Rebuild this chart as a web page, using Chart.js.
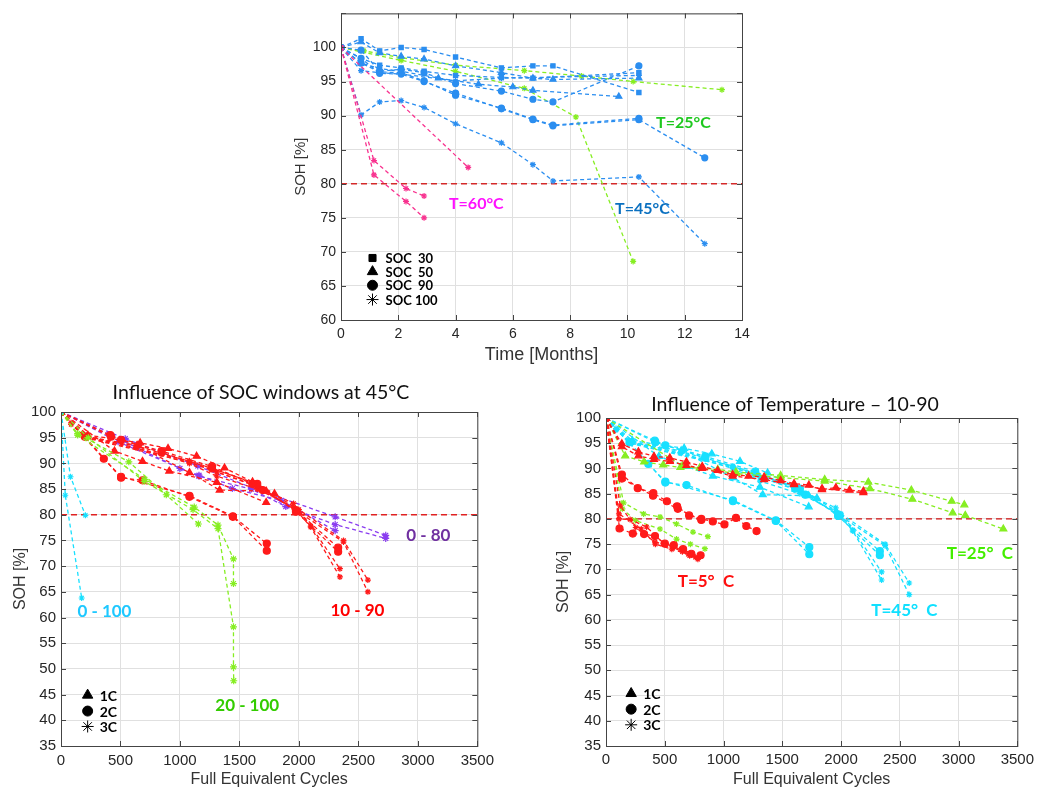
<!DOCTYPE html>
<html>
<head>
<meta charset="utf-8">
<script src="https://cdn.jsdelivr.net/npm/chart.js@4.4.1/dist/chart.umd.min.js"></script>
<style>
  body { margin: 0; background: #fff; width: 1039px; height: 792px; position: relative; overflow: hidden; }
  .panel { position: absolute; }
  .title { position: absolute; font-family: Lato, "Open Sans", sans-serif; font-size: 19.5px; color: #111; white-space: nowrap; transform: translate(-50%, -50%); }
</style>
</head>
<body>
<div class="panel" style="left:280px;top:0"><canvas id="storage" width="480" height="370"></canvas></div>
<div class="panel" style="left:0;top:380px"><canvas id="socWindows" width="500" height="412"></canvas></div>
<div class="panel" style="left:540px;top:380px"><canvas id="temperature" width="499" height="412"></canvas></div>
<div class="title" style="left:261px;top:391px">Influence of SOC windows at 45°C</div>
<div class="title" style="left:795px;top:403px">Influence of Temperature – 10-90</div>

<script>
// ---- calendar ageing: [months, SOH %] ----
const cal45Square1 = [[0,100],[0.7,101.3],[1.35,99.5],[2.1,100],[2.9,99.7],[4,98.6],[5.6,97],[6.7,97.3],[7.4,97.3],[10.4,93.4]];
const cal45Square2 = [[0,100],[0.7,98.4],[1.35,97.4],[2.1,97],[2.9,96.5],[4,95.9],[5.6,95.6],[6.7,95.5],[10.4,96.3]];
const cal45Tri1 = [[0,100],[0.7,100.8],[1.35,99.2],[2.1,98.7],[2.9,98.3],[4,97.3],[5.6,96.3],[6.7,95.5],[7.4,95.3],[10.4,95.5]];
const cal45Tri2 = [[0,100],[0.7,97.7],[1.35,96.9],[2.1,96.5],[3.4,95.5],[4.8,94.6],[6,94.2],[6.7,93.7],[9.7,92.8]];
const cal45Circle1 = [[0,100],[0.7,99.6],[1.35,96.5],[2.1,96.8],[2.9,96.3],[4,94.7],[5.6,93.6],[6.7,92.4],[7.4,92],[10.4,97.3]];
const cal45Circle2 = [[0,100],[0.7,98.4],[1.35,96.2],[2.1,96.1],[2.9,95],[4,93.3],[5.6,91],[6.7,89.4],[7.4,88.5],[10.4,89.4],[12.7,83.8]];
const cal45Circle3 = [[0,100],[0.7,97.7],[1.35,96.4],[2.1,96.3],[2.9,95.1],[4,93],[5.6,91.1],[6.7,89.5],[7.4,88.6],[10.4,89.6]];
const cal45Star1 = [[0,100],[0.7,90.1],[1.35,92],[2.1,92.2],[2.9,91.2],[4,88.8],[5.6,86],[6.7,82.8],[7.4,80.4],[10.4,81],[12.7,71.2]];
const cal45Star2 = [[0,100],[0.7,96.6],[1.35,96.3],[2.1,96.1],[4,95.1],[5.6,95.5],[10.4,95.9]];
const cal25Star1 = [[0,100],[0.8,99.5],[2.1,98.5],[4,97.4],[6.4,96.6],[8.4,95.8],[10.2,95],[13.3,93.8]];
const cal25Star2 = [[0,100],[2.1,98.1],[4,96.5],[6.4,94],[8.2,89.8],[10.2,68.6]];
const cal60Star1 = [[0,100],[1.15,83.4],[2.27,79.3],[2.9,78.2]];
const cal60Star2 = [[0,100],[1.15,81.3],[2.27,77.4],[2.9,75]];
const cal60Star3 = [[0,100],[4.44,82.4]];

// ---- cycling at 45°C, 10-90 window: [FEC, SOH %] ----
const c45Tri1 = [[0,100],[225,95.5],[665,94],[900,92.9],[1140,91.4],[1375,89.1],[1610,86.4],[1795,84.1]];
const c45Tri2 = [[0,100],[450,92.4],[685,90.4],[910,88.5],[1310,86.3],[1725,82.4]];
const c45Tri3 = [[0,100],[220,95.2],[640,93.5],[1080,88.2],[1334,84.8],[1725,84.6]];
const c45Circle1 = [[0,100],[360,90.9],[505,87.4],[1080,83.7],[1445,79.7],[1730,74.4]];
const c45Circle2 = [[0,100],[200,95.2],[505,87.2],[685,86.7],[1080,83.5],[1445,79.6],[1730,73]];
const c45Circle3 = [[0,100],[415,95.5],[505,94.6],[845,92.4],[1270,89.4],[1610,86],[1695,84.8],[1975,80.9],[2330,73.6]];
const c45Circle4 = [[0,100],[420,95.2],[845,92.1],[1270,89],[1650,86],[1975,80.6],[2330,72.8]];
const c45Star1 = [[0,100],[85,97.9],[200,95],[640,93.4],[1080,90.3],[1310,88.3],[1650,85.5],[1955,82.2],[2100,77.8],[2345,69.5]];
const c45Star2 = [[0,100],[85,97.6],[200,95.3],[640,93],[1080,90],[1310,87.5],[1650,85],[1955,81.5],[2100,77.6],[2345,67.9]];
const c45Star3 = [[0,100],[200,95.1],[1080,90.5],[1650,86],[2000,81],[2375,75],[2580,67.3]];
const c45Star4 = [[0,100],[200,95],[1080,90.2],[1650,85.6],[2000,80.5],[2375,74.7],[2580,65]];

// other SOC windows at 45°C
const w080a = [[0,100],[510,94.5],[1000,89],[1160,87.7],[1440,85.1],[1850,82.8],[2305,76.9]];
const w080b = [[0,100],[540,94.8],[1150,89.5],[1600,85.3],[2305,79.6],[2730,76]];
const w080c = [[0,100],[480,94.2],[1160,87.5],[1600,85],[1890,81.6],[2305,78.1],[2730,75.4]];
const w20100a = [[0,100],[140,95.8],[570,90.3],[885,83.9],[1155,78.2]];
const w20100b = [[0,100],[140,95.5],[705,86.9],[1120,81.5],[1320,78],[1450,71.4],[1450,66.6]];
const w20100c = [[0,100],[230,95],[700,86.5],[1110,81],[1320,77.3],[1450,58.2],[1450,50.4],[1452,47.7]];
const w0100a = [[0,100],[36,83.8],[174,63.8]];
const w0100b = [[0,100],[80,87.4],[205,79.9]];

// 10-90 window at 5°C and 25°C
const c5Tri1 = [[0,100],[135,94.9],[276,93.3],[408,92.4],[543,92.1],[684,91.3],[819,90.4],[951,89.6],[1078,88.8],[1213,88.5],[1346,88.3],[1486,87.6],[1600,87],[1726,86.7],[1838,85.8],[1956,86.2],[2072,85.7],[2190,85.5]];
const c5Tri2 = [[0,100],[135,94.3],[276,92.5],[408,91.8],[543,91.4],[684,90.6],[819,90],[1078,88.5],[1346,87.8],[1600,86.8],[1838,86],[2190,85.2]];
const c5Circle1 = [[0,100],[135,88.8],[270,86.1],[403,85.1],[518,83.5],[605,82.5],[707,80.7],[811,80],[909,79.5],[1008,78.9],[1106,80.2],[1194,78.6],[1281,77.6]];
const c5Circle2 = [[0,100],[115,78.1],[228,77.1],[324,77],[417,76.6],[501,75.1],[577,74.8],[656,74],[726,73.1],[805,72.8]];
const c5Circle3 = [[0,100],[135,88],[400,84.6],[611,82],[811,79.8]];
const c5Star1 = [[0,100],[121,82.6],[253,78.3],[417,75.4],[580,74.6],[712,72.7],[782,72]];
const c5Star2 = [[0,100],[110,80],[205,79.9],[346,78.4],[487,75.2],[650,73.5],[782,72.3]];
const c5Star3 = [[0,100],[110,81],[300,78],[420,75],[560,74],[700,73],[760,72.4]];
const c25Tri1 = [[0,100],[163,92.5],[324,91.3],[487,90.7],[633,90.2],[797,90.1],[951,89.8],[1106,89.3],[1486,88.6],[1861,87.8],[2232,87.3],[2598,85.7],[2942,83.5],[3049,82.8]];
const c25Tri2 = [[0,100],[650,90.5],[1106,89],[1486,88.2],[1861,87.5],[2246,86],[2607,83.9],[2950,81.2],[3057,80.7],[3381,78]];
const c25Star1 = [[0,100],[150,83.2],[320,81],[460,80.4],[600,79],[740,77.4],[867,76.5]];
const c25Star2 = [[0,100],[140,82],[250,79.7],[460,78],[600,76],[718,75],[842,74.1]];

const eolLimit = 80;

const BLUE = '#2b8ef0', LIME = '#86ee22', PINK = '#f8328f';
const RED = '#ff1a1a', CYAN = '#18e0ff', PURPLE = '#8a3cf0';

function series(points, color, marker, r) {
  return {
    data: points.map(p => ({ x: p[0], y: p[1] })),
    showLine: true,
    borderColor: color,
    backgroundColor: color,
    borderWidth: 1.3,
    borderDash: [4, 3],
    pointStyle: marker,
    pointRadius: r,
    pointBorderWidth: 1.2
  };
}

function limitLine(xMax, color) {
  return {
    data: [{ x: 0, y: eolLimit }, { x: xMax, y: eolLimit }],
    showLine: true, borderColor: color, borderWidth: 1.3, borderDash: [6, 4], pointRadius: 0
  };
}

// axis box with inward tick marks on every side
const framePlugin = {
  id: 'frame',
  afterDatasetsDraw(chart) {
    const { ctx, chartArea: a, scales: { x, y } } = chart;
    ctx.save();
    ctx.strokeStyle = '#444';
    ctx.lineWidth = 1;
    ctx.strokeRect(a.left + 0.5, a.top + 0.5, a.right - a.left, a.bottom - a.top);
    ctx.beginPath();
    x.ticks.forEach(t => {
      const px = Math.round(x.getPixelForValue(t.value)) + 0.5;
      ctx.moveTo(px, a.bottom); ctx.lineTo(px, a.bottom - 5);
      ctx.moveTo(px, a.top); ctx.lineTo(px, a.top + 5);
    });
    y.ticks.forEach(t => {
      const py = Math.round(y.getPixelForValue(t.value)) + 0.5;
      ctx.moveTo(a.left, py); ctx.lineTo(a.left + 5, py);
      ctx.moveTo(a.right, py); ctx.lineTo(a.right - 5, py);
    });
    ctx.stroke();
    ctx.restore();
  }
};

// coloured group labels and the black marker key
const notesPlugin = {
  id: 'notes',
  afterDraw(chart, args, opts) {
    const { ctx, scales: { x, y } } = chart;
    ctx.save();
    ctx.textBaseline = 'middle';
    (opts.labels || []).forEach(n => {
      ctx.font = n.font;
      ctx.fillStyle = n.color;
      ctx.fillText(n.text, x.getPixelForValue(n.x), y.getPixelForValue(n.y));
    });
    (opts.key || []).forEach(k => {
      const px = x.getPixelForValue(k.x), py = y.getPixelForValue(k.y);
      ctx.fillStyle = '#000';
      ctx.strokeStyle = '#000';
      Chart.helpers.drawPoint(ctx, { pointStyle: k.marker, radius: k.r, rotation: 0, borderWidth: 1.5 }, px, py);
      ctx.font = 'bold ' + (opts.keySize || 13) + 'px Lato, sans-serif';
      ctx.fillText(k.text, px + k.dx, py + 1);
    });
    ctx.restore();
  }
};

function axis(min, max, step, title, opts) {
  return {
    type: 'linear', min: min, max: max,
    ticks: {
      stepSize: step, color: '#262626', padding: opts.tickPad,
      font: { family: 'Liberation Sans', size: opts.tickSize },
      callback: opts.hideAbove !== undefined ? (v => v > opts.hideAbove ? '' : v) : (v => v)
    },
    grid: { color: '#e0e0e0', drawTicks: false },
    border: { display: false },
    title: {
      display: true, text: title, color: '#333',
      font: { family: 'Liberation Sans', size: opts.titleSize },
      padding: opts.titlePad
    },
    afterFit: s => { if (opts.w) s.width = opts.w; if (opts.h) s.height = opts.h; }
  };
}

function build(id, datasets, scales, padding, notes) {
  return new Chart(document.getElementById(id), {
    type: 'scatter',
    data: { datasets: datasets },
    options: {
      responsive: false, animation: false, events: [],
      layout: { padding: padding },
      plugins: { legend: { display: false }, tooltip: { enabled: false }, notes: notes },
      scales: scales
    },
    plugins: [framePlugin, notesPlugin]
  });
}

// storage test over time
build('storage', [
  series(cal60Star1, PINK, 'star', 3),
  series(cal60Star2, PINK, 'star', 3),
  series(cal60Star3, PINK, 'star', 3),
  series(cal45Square1, BLUE, 'rect', 3),
  series(cal45Square2, BLUE, 'rect', 3),
  series(cal45Tri1, BLUE, 'triangle', 3.5),
  series(cal45Tri2, BLUE, 'triangle', 3.5),
  series(cal45Circle1, BLUE, 'circle', 3),
  series(cal45Circle2, BLUE, 'circle', 3),
  series(cal45Circle3, BLUE, 'circle', 3),
  series(cal45Star1, BLUE, 'star', 3),
  series(cal45Star2, BLUE, 'star', 3),
  series(cal25Star1, LIME, 'star', 3),
  series(cal25Star2, LIME, 'star', 3),
  limitLine(14, '#d42a2a')
], {
  x: axis(0, 14, 2, 'Time [Months]', { tickSize: 14, tickPad: 6, titleSize: 18, titlePad: { top: 0, bottom: 4 }, h: 50 }),
  y: axis(60, 105, 5, 'SOH [%]', { tickSize: 14, tickPad: 5, titleSize: 15, titlePad: { top: 12, bottom: 0 }, w: 61, hideAbove: 100 })
}, { top: 7, right: 18, left: 0, bottom: 0 }, {
  keySize: 13,
  labels: [
    { text: 'T=25°C', x: 11.0, y: 89, color: '#1ec81e', font: 'bold 16px Lato, sans-serif' },
    { text: 'T=60°C', x: 3.77, y: 77, color: '#ff10ff', font: 'bold 16px Lato, sans-serif' },
    { text: 'T=45°C', x: 9.57, y: 76.3, color: '#0a70c0', font: 'bold 16px Lato, sans-serif' }
  ],
  key: [
    { marker: 'rect', r: 5, x: 1.1, y: 69.1, dx: 13, text: 'SOC  30' },
    { marker: 'triangle', r: 6, x: 1.1, y: 67.1, dx: 13, text: 'SOC  50' },
    { marker: 'circle', r: 5, x: 1.1, y: 65.1, dx: 13, text: 'SOC  90' },
    { marker: 'star', r: 6, x: 1.1, y: 63.0, dx: 13, text: 'SOC 100' }
  ]
});

// cycling with different SOC windows at 45°C
build('socWindows', [
  series(w0100a, CYAN, 'star', 3),
  series(w0100b, CYAN, 'star', 3),
  series(w20100a, LIME, 'star', 3.5),
  series(w20100b, LIME, 'star', 3.5),
  series(w20100c, LIME, 'star', 3.5),
  series(c45Tri1, RED, 'triangle', 4),
  series(c45Tri2, RED, 'triangle', 4),
  series(c45Tri3, RED, 'triangle', 4),
  series(c45Circle1, RED, 'circle', 3.5),
  series(c45Circle2, RED, 'circle', 3.5),
  series(c45Circle3, RED, 'circle', 3.5),
  series(c45Circle4, RED, 'circle', 3.5),
  series(c45Star1, RED, 'star', 3),
  series(c45Star2, RED, 'star', 3),
  series(c45Star3, RED, 'star', 3),
  series(c45Star4, RED, 'star', 3),
  series(w080a, PURPLE, 'star', 3.5),
  series(w080b, PURPLE, 'star', 3.5),
  series(w080c, PURPLE, 'star', 3.5),
  limitLine(3500, '#e02222')
], {
  x: axis(0, 3500, 500, 'Full Equivalent Cycles', { tickSize: 15, tickPad: 6, titleSize: 16, titlePad: { top: 0, bottom: 3 }, h: 46 }),
  y: axis(35, 100, 5, 'SOH [%]', { tickSize: 15, tickPad: 5, titleSize: 16, titlePad: { top: 11, bottom: 0 }, w: 61 })
}, { top: 32, right: 16, left: 0, bottom: 0 }, {
  keySize: 14,
  labels: [
    { text: '0 - 100', x: 138, y: 61.1, color: '#1ec8ff', font: 'bold 17px Lato, sans-serif' },
    { text: '20 - 100', x: 1297, y: 42.8, color: '#33cc00', font: 'bold 17px Lato, sans-serif' },
    { text: '10 - 90', x: 2265, y: 61.4, color: '#ff0000', font: 'bold 17px Lato, sans-serif' },
    { text: '0 - 80', x: 2902, y: 76, color: '#7030a0', font: 'bold 17px Lato, sans-serif' }
  ],
  key: [
    { marker: 'triangle', r: 6, x: 224, y: 44.9, dx: 12, text: '1C' },
    { marker: 'circle', r: 5, x: 224, y: 41.8, dx: 12, text: '2C' },
    { marker: 'star', r: 6, x: 224, y: 38.8, dx: 12, text: '3C' }
  ]
});

// cycling 10-90 at different temperatures
build('temperature', [
  series(c5Star1, RED, 'star', 3),
  series(c5Star2, RED, 'star', 3),
  series(c5Star3, RED, 'star', 3),
  series(c5Circle1, RED, 'circle', 3.5),
  series(c5Circle2, RED, 'circle', 3.5),
  series(c5Circle3, RED, 'circle', 3.5),
  series(c5Tri1, RED, 'triangle', 4),
  series(c5Tri2, RED, 'triangle', 4),
  series(c25Star1, LIME, 'star', 3),
  series(c25Star2, LIME, 'star', 3),
  series(c25Tri1, LIME, 'triangle', 4),
  series(c25Tri2, LIME, 'triangle', 4),
  series(c45Tri1, CYAN, 'triangle', 4),
  series(c45Tri2, CYAN, 'triangle', 4),
  series(c45Tri3, CYAN, 'triangle', 4),
  series(c45Circle1, CYAN, 'circle', 3.5),
  series(c45Circle2, CYAN, 'circle', 3.5),
  series(c45Circle3, CYAN, 'circle', 3.5),
  series(c45Circle4, CYAN, 'circle', 3.5),
  series(c45Star1, CYAN, 'star', 3),
  series(c45Star2, CYAN, 'star', 3),
  series(c45Star3, CYAN, 'star', 3),
  series(c45Star4, CYAN, 'star', 3),
  limitLine(3500, '#d01010')
], {
  x: axis(0, 3500, 500, 'Full Equivalent Cycles', { tickSize: 15, tickPad: 5, titleSize: 16, titlePad: { top: 0, bottom: 3 }, h: 46 }),
  y: axis(35, 100, 5, 'SOH [%]', { tickSize: 15, tickPad: 5, titleSize: 16, titlePad: { top: 14, bottom: 0 }, w: 66 })
}, { top: 38, right: 19, left: 0, bottom: 0 }, {
  keySize: 14,
  labels: [
    { text: 'T=5°  C', x: 610, y: 67.5, color: '#ff1010', font: 'bold 17px Lato, sans-serif' },
    { text: 'T=45°  C', x: 2257, y: 61.9, color: '#10e0ff', font: 'bold 17px Lato, sans-serif' },
    { text: 'T=25°  C', x: 2899, y: 73.2, color: '#44ee00', font: 'bold 17px Lato, sans-serif' }
  ],
  key: [
    { marker: 'triangle', r: 6, x: 214, y: 45.4, dx: 12, text: '1C' },
    { marker: 'circle', r: 5, x: 214, y: 42.3, dx: 12, text: '2C' },
    { marker: 'star', r: 6, x: 214, y: 39.2, dx: 12, text: '3C' }
  ]
});
</script>
</body>
</html>
